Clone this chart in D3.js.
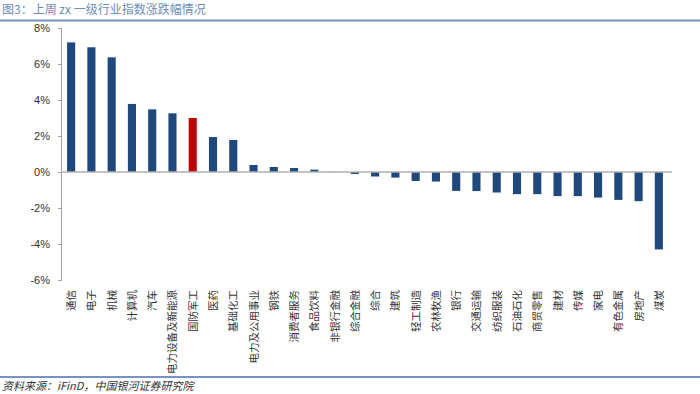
<!DOCTYPE html>
<html>
<head>
<meta charset="utf-8">
<script src="https://cdn.jsdelivr.net/npm/d3@7"></script>
<style>
    body { margin: 0; background: #fff; }
    svg { display: block; }
</style>
</head>
<body>
<div id="chart"></div>
<script>
// Data
const categories = ['通信', '电子', '机械', '计算机', '汽车', '电力设备及新能源', '国防军工', '医药', '基础化工',
    '电力及公用事业', '钢铁', '消费者服务', '食品饮料', '非银行金融', '综合金融', '综合', '建筑', '轻工制造',
    '农林牧渔', '银行', '交通运输', '纺织服装', '石油石化', '商贸零售', '建材', '传媒', '家电', '有色金属',
    '房地产', '煤炭'];
const values = [7.20, 6.93, 6.37, 3.78, 3.48, 3.26, 3.00, 1.94, 1.78, 0.39, 0.28, 0.22, 0.13, 0.01, -0.11,
    -0.25, -0.31, -0.50, -0.53, -1.05, -1.06, -1.14, -1.23, -1.23, -1.34, -1.34, -1.42, -1.55, -1.62, -4.30];
const highlight = '国防军工';
const yTicks = [-6, -4, -2, 0, 2, 4, 6, 8];
const title = '图3：上周 zx 一级行业指数涨跌幅情况';
const source = '资料来源：iFinD，中国银河证券研究院';

const W = 700, H = 394;
const margin = { top: 28, left: 61, right: 31, bottom: 114 };
const innerW = W - margin.left - margin.right;
const innerH = H - margin.top - margin.bottom;

const BLUE = '#1f497d';
const RED = '#c00000';
const CJK = '"Noto Sans CJK SC", sans-serif';

const svg = d3.select('#chart').append('svg')
    .attr('width', W)
    .attr('height', H);

// Title and rules
svg.append('text')
    .attr('x', 2)
    .attr('y', 14)
    .attr('font-family', CJK)
    .attr('font-size', 12)
    .attr('fill', '#6d8db8')
    .text(title);

svg.append('line')
    .attr('x1', 0).attr('x2', W)
    .attr('y1', 20.5).attr('y2', 20.5)
    .attr('stroke', '#7793c2')
    .attr('stroke-width', 2);

svg.append('line')
    .attr('x1', 0).attr('x2', W)
    .attr('y1', 377).attr('y2', 377)
    .attr('stroke', '#7793c2')
    .attr('stroke-width', 2);

svg.append('text')
    .attr('x', 2)
    .attr('y', 390)
    .attr('font-family', CJK)
    .attr('font-style', 'italic')
    .attr('font-size', 11)
    .attr('fill', '#333')
    .text(source);

const g = svg.append('g')
    .attr('transform', `translate(${margin.left},${margin.top})`);

// Scales
const x = d3.scaleBand()
    .domain(categories)
    .range([0, innerW])
    .paddingInner(0.6)
    .paddingOuter(0.3);

const y = d3.scaleLinear()
    .domain([-6, 8])
    .range([innerH, 0]);

// Y axis
const yAxis = g.append('g')
    .call(d3.axisLeft(y)
        .tickValues(yTicks)
        .tickSize(3)
        .tickPadding(8)
        .tickFormat(d => d + '%'));
yAxis.select('.domain').attr('stroke', '#a0a0a0');
yAxis.selectAll('.tick line').attr('stroke', '#a0a0a0');
yAxis.selectAll('.tick text')
    .attr('font-family', 'Arial, "Liberation Sans", sans-serif')
    .attr('font-size', 11)
    .attr('fill', '#333');

// Bars
g.selectAll('rect.bar')
    .data(categories)
    .enter()
    .append('rect')
    .attr('class', 'bar')
    .attr('x', d => x(d))
    .attr('width', x.bandwidth())
    .attr('y', (d, i) => y(Math.max(0, values[i])))
    .attr('height', (d, i) => Math.abs(y(values[i]) - y(0)))
    .attr('fill', d => d === highlight ? RED : BLUE);

// Zero line
g.append('line')
    .attr('x1', 0).attr('x2', innerW + 3)
    .attr('y1', y(0)).attr('y2', y(0))
    .attr('stroke', '#b0b0b0')
    .attr('stroke-width', 1.5);

// Category labels, rotated to read bottom-to-top
g.selectAll('text.cat')
    .data(categories)
    .enter()
    .append('text')
    .attr('class', 'cat')
    .attr('transform', d => `translate(${x(d) + x.bandwidth() / 2 + 4},${innerH + 10}) rotate(-90)`)
    .attr('text-anchor', 'end')
    .attr('font-family', CJK)
    .attr('font-size', 10.5)
    .attr('fill', '#333')
    .text(d => d);
</script>
</body>
</html>
